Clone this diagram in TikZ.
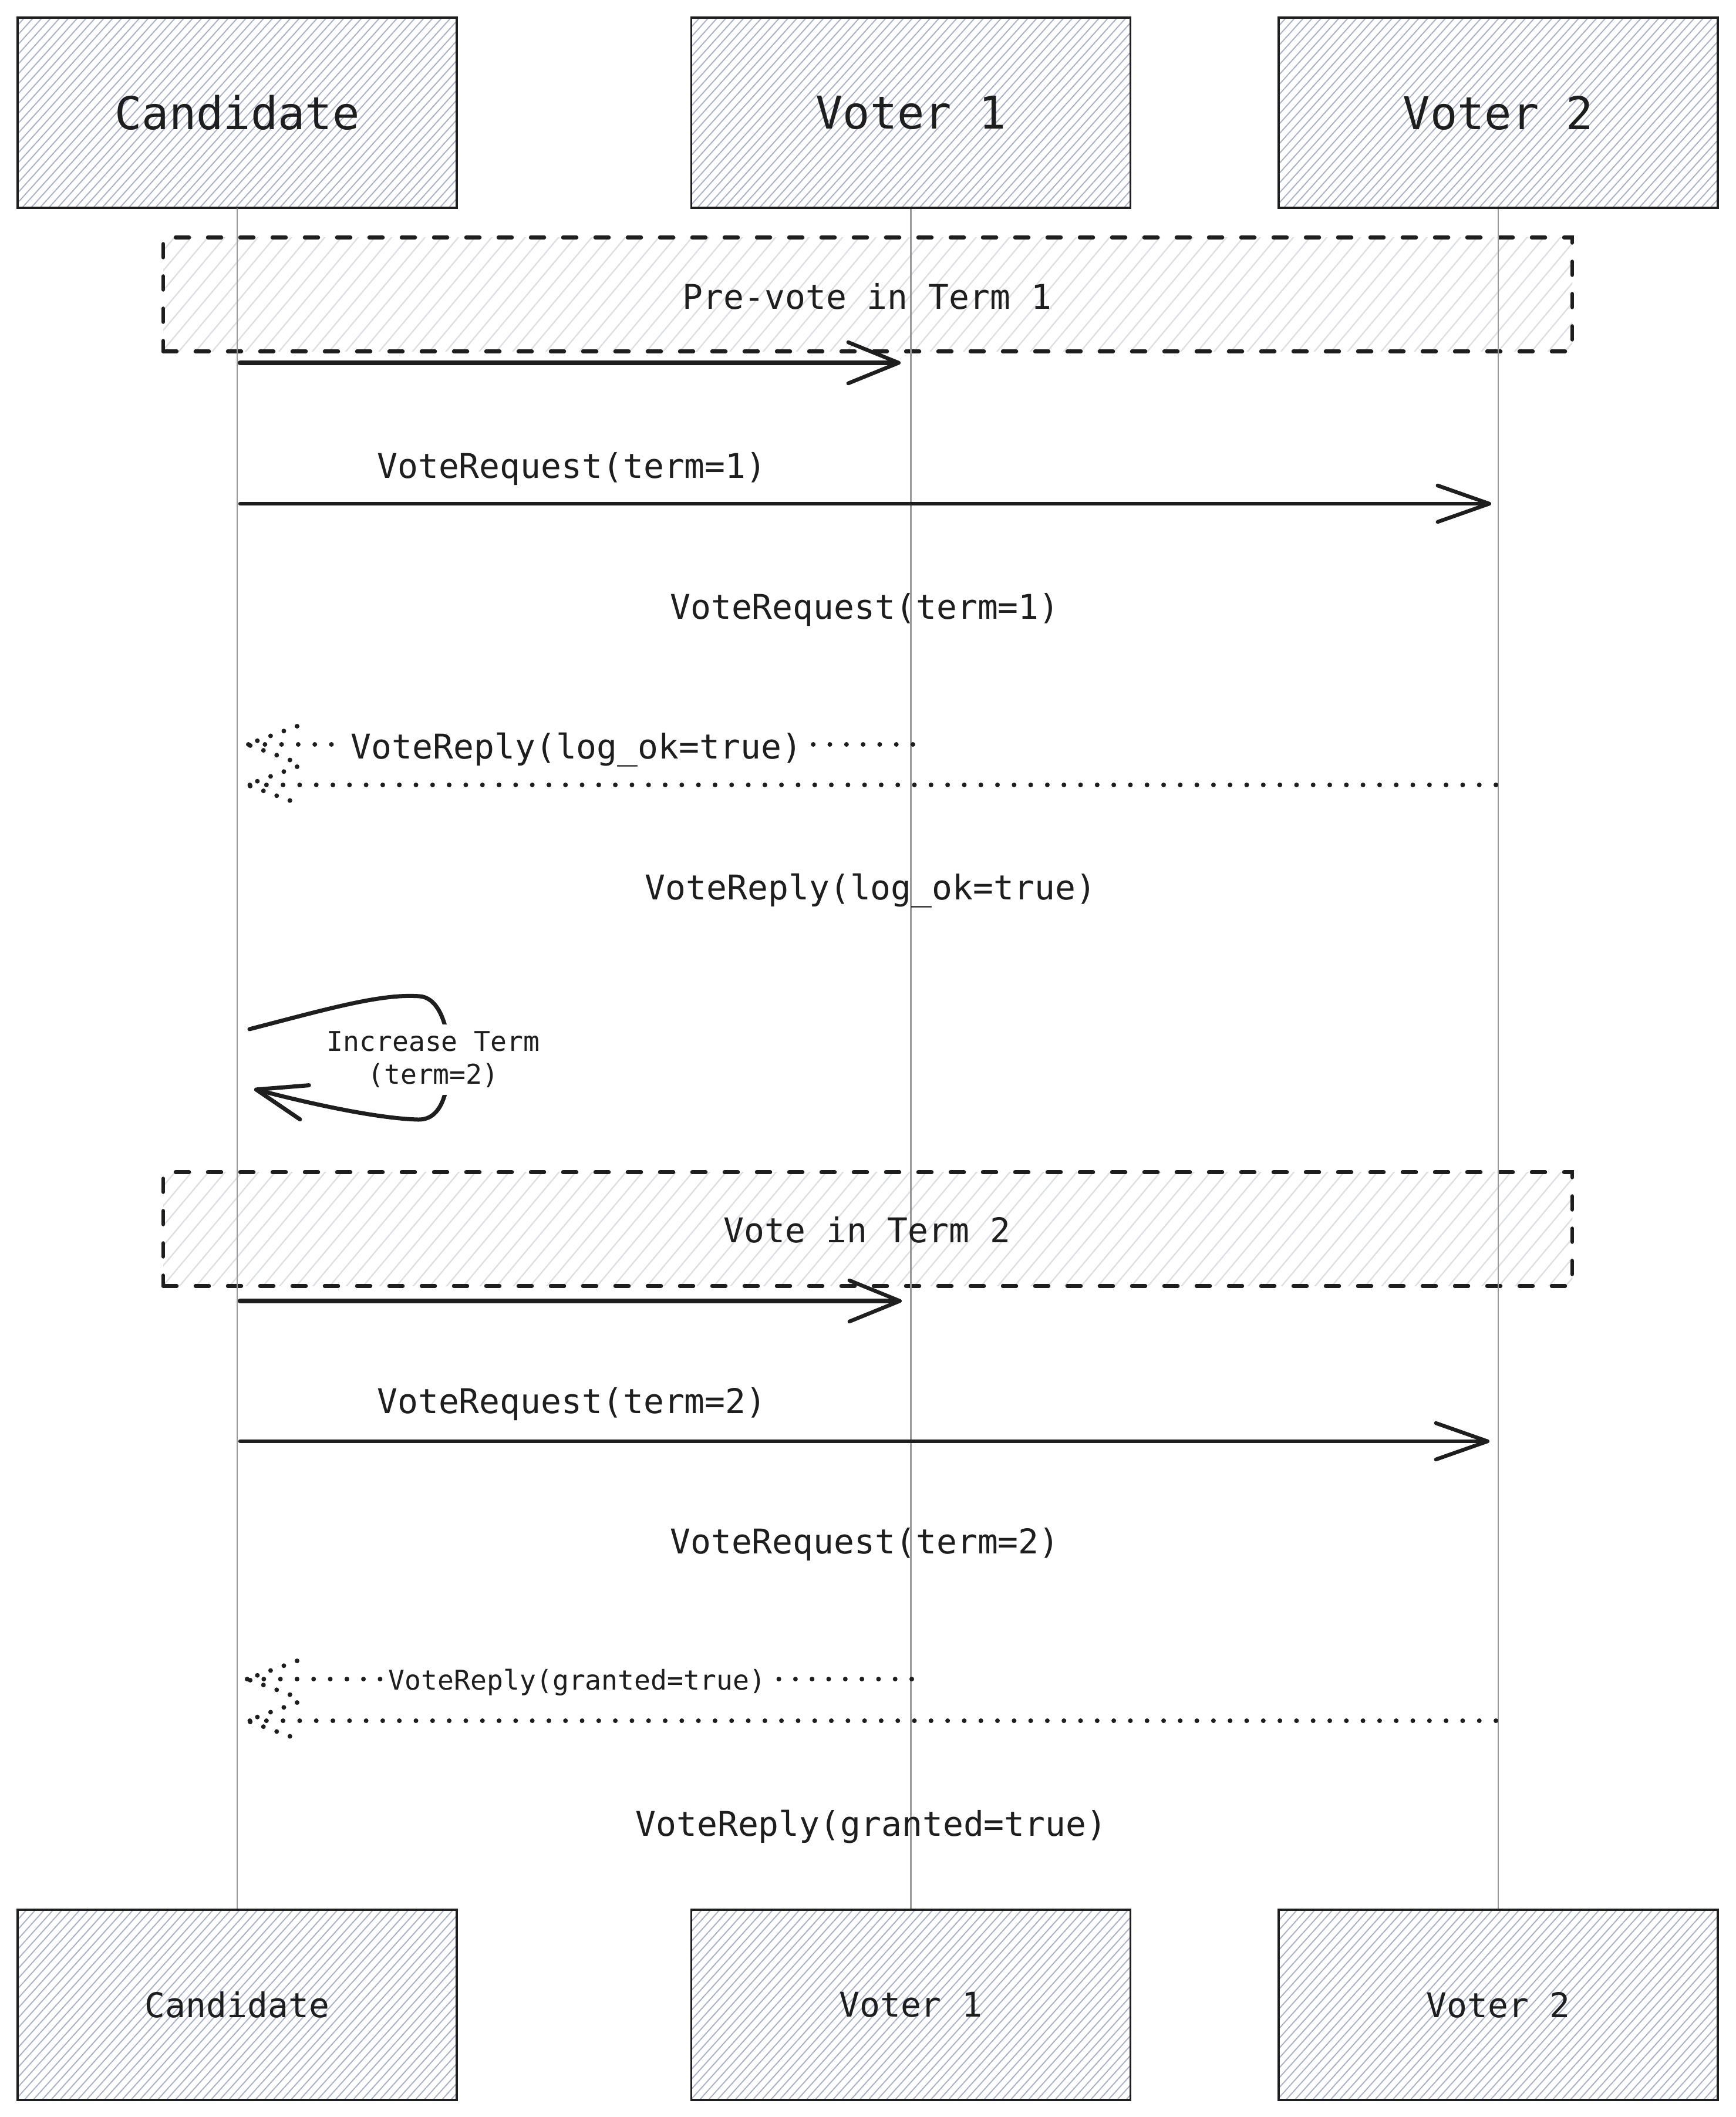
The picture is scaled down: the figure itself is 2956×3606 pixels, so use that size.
\documentclass[tikz,border=0pt]{standalone}
\usepackage{fontspec}
\newfontfamily\codefont{DejaVu Sans Mono}
\usetikzlibrary{arrows.meta,patterns.meta,calc}
\definecolor{ink}{HTML}{1E1E1E}
\definecolor{hatchblue}{HTML}{A9B1CA}
\definecolor{hatchgray}{HTML}{DDE0E5}
\definecolor{lifegray}{HTML}{999999}
\begin{document}
\begin{tikzpicture}[x=0.1mm,y=-0.1mm,
  actor/.style={draw=ink, line width=0.35mm, minimum width=74.8mm, minimum height=32.4mm,
    inner sep=0pt, pattern={Lines[angle=48,distance=3.2pt,line width=0.55pt]},
    pattern color=hatchblue, text=ink},
  bigtxt/.style={font=\codefont\fontsize{21.9}{26}\selectfont},
  medtxt/.style={text=ink, inner sep=0pt, font=\codefont\fontsize{16.5}{20}\selectfont},
  smalltxt/.style={text=ink, inner sep=0pt, font=\codefont\fontsize{13.2}{15.9}\selectfont},
  dbox/.style={draw=ink, line width=0.65mm, dash pattern=on 2.3mm off 3.2mm, line cap=round,
    minimum width=240mm, minimum height=19.4mm, inner sep=0pt,
    pattern={Lines[angle=50,distance=6.2pt,line width=0.7pt]}, pattern color=hatchgray},
  lifeline/.style={draw=lifegray, line width=0.22mm},
  thickmsg/.style={draw=ink, line width=0.85mm, line cap=round,
    -{Straight Barb[length=8.6mm,width=7mm,line width=0.65mm,round]}},
  msg/.style={draw=ink, line width=0.65mm, line cap=round,
    -{Straight Barb[length=8.8mm,width=6.2mm,line width=0.65mm,round]}},
  dotmsg/.style={draw=ink, line width=0.8mm, line cap=round, dash pattern=on 0pt off 2.83mm},
  dothead/.style={draw=ink, line width=0.8mm, line cap=round, line join=round, dash pattern=on 0pt off 2.4mm},
]
\useasboundingbox (0,0) rectangle (2956,3606);

% dashed group boxes
\node[dbox] (pre) at (1478,501.5) {};
\node[dbox] (vote) at (1478,2093.5) {};

% actors
\node[actor, bigtxt] (cand) at (404,192) {Candidate};
\node[actor, bigtxt] (v1) at (1551.5,192) {Voter 1};
\node[actor, bigtxt] (v2) at (2552,192) {Voter 2};
\node[actor, medtxt] (candB) at (404,3415) {Candidate};
\node[actor, medtxt] (v1B) at (1551.5,3415) {Voter 1};
\node[actor, medtxt] (v2B) at (2552,3415) {Voter 2};

% lifelines
\draw[lifeline] (cand.south) -- (candB.north);
\draw[lifeline] (v1.south) -- (v1B.north);
\draw[lifeline] (v2.south) -- (v2B.north);

% group labels
\node[medtxt, anchor=base] (prelbl) at (1477,527) {Pre-vote in Term 1};
\node[medtxt, anchor=base] (votelbl) at (1477,2116) {Vote in Term 2};

% endpoints on lifelines
\coordinate (a1s) at (409,618);   \coordinate (a1e) at (1534,618);
\coordinate (a2s) at (409,858);   \coordinate (a2e) at (2540,858);
\coordinate (d3s) at (1555,1268); \coordinate (d3e) at (421,1268);
\coordinate (d4s) at (2548,1337); \coordinate (d4e) at (421,1337);
\coordinate (sls) at (425,1753);  \coordinate (sle) at (433,1855);
\coordinate (a6s) at (409,2216);  \coordinate (a6e) at (1536,2216);
\coordinate (a7s) at (409,2455);  \coordinate (a7e) at (2537,2455);
\coordinate (d8s) at (1553,2860); \coordinate (d8e) at (421,2860);
\coordinate (d9s) at (2548,2931); \coordinate (d9e) at (421,2931);

% pre-vote requests
\draw[thickmsg] (a1s) -- (a1e);
\draw[msg] (a2s) -- (a2e);
\node[medtxt, anchor=base] (rq1a) at (974,815) {VoteRequest(term=1)};
\node[medtxt, anchor=base] (rq1b) at (1473,1054) {VoteRequest(term=1)};

% pre-vote replies
\draw[dotmsg] (d3s) -- (d3e);
\draw[dothead] ($(d3e)+(85,-31)$) -- (d3e) -- ($(d3e)+(85,31)$);
\draw[dotmsg] (d4s) -- (d4e);
\draw[dothead] ($(d4e)+(85,-31)$) -- (d4e) -- ($(d4e)+(85,31)$);
\node[medtxt, anchor=base, fill=white, inner xsep=1mm, inner ysep=0.5mm] (rp1a) at (982,1292) {VoteReply(log\_ok=true)};
\node[medtxt, anchor=base] (rp1b) at (1483,1532) {VoteReply(log\_ok=true)};

% self loop
\draw[draw=ink, line width=0.7mm, line cap=round,
  -{Straight Barb[length=8.5mm,width=6mm,line width=0.7mm,round]}]
  (sls) .. controls (560,1718) and (650,1692) .. (715,1697)
        .. controls (752,1700) and (765,1760) .. (765,1800)
        .. controls (765,1860) and (752,1908) .. (712,1907)
        .. controls (640,1905) and (520,1878) .. (sle);
\node[smalltxt, align=center, fill=white, inner sep=1.2mm] (inc) at (738,1805) {Increase Term\\(term=2)};

% vote requests
\draw[thickmsg] (a6s) -- (a6e);
\draw[msg] (a7s) -- (a7e);
\node[medtxt, anchor=base] (rq2a) at (974,2407) {VoteRequest(term=2)};
\node[medtxt, anchor=base] (rq2b) at (1473,2646) {VoteRequest(term=2)};

% vote replies
\draw[dotmsg] (d8s) -- (d8e);
\draw[dothead] ($(d8e)+(85,-31)$) -- (d8e) -- ($(d8e)+(85,31)$);
\draw[dotmsg] (d9s) -- (d9e);
\draw[dothead] ($(d9e)+(85,-31)$) -- (d9e) -- ($(d9e)+(85,31)$);
\node[smalltxt, anchor=base, fill=white, inner xsep=1mm, inner ysep=0.5mm] (rp2a) at (983,2878) {VoteReply(granted=true)};
\node[medtxt, anchor=base] (rp2b) at (1484,3127) {VoteReply(granted=true)};
\end{tikzpicture}
\end{document}
